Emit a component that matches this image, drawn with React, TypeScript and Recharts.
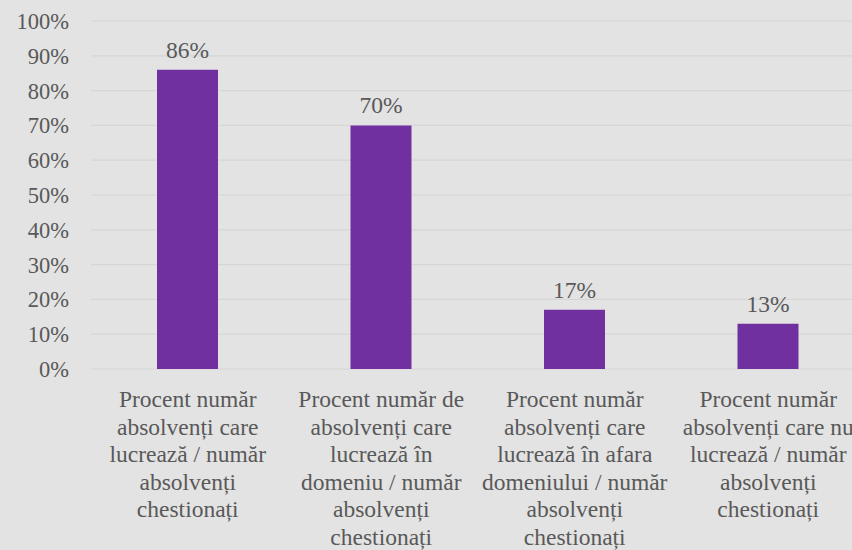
import React from "react";
import { BarChart, Bar, XAxis, YAxis, CartesianGrid, LabelList } from "recharts";

const categories = [
  "Procent număr\nabsolvenți care\nlucrează / număr\nabsolvenți\nchestionați",
  "Procent număr de\nabsolvenți care\nlucrează în\ndomeniu / număr\nabsolvenți\nchestionați",
  "Procent număr\nabsolvenți care\nlucrează în afara\ndomeniului / număr\nabsolvenți\nchestionați",
  "Procent număr\nabsolvenți care nu\nlucrează / număr\nabsolvenți\nchestionați",
];
const percentages = [86, 70, 17, 13];
const yTicks = [0, 10, 20, 30, 40, 50, 60, 70, 80, 90, 100];

const data = categories.map((name, i) => ({ name, value: percentages[i] }));

const font = "'Liberation Serif', 'Times New Roman', serif";
const textColor = "#595959";

function CategoryTick(props: any) {
  const { x, y, payload } = props;
  const lines = String(payload.value).split("\n");
  return (
    <text x={x} y={y} textAnchor="middle" fill={textColor} style={{ fontSize: 23.5, fontFamily: font }}>
      {lines.map((line, i) => (
        <tspan key={i} x={x} dy={i === 0 ? 30 : 27.5}>
          {line}
        </tspan>
      ))}
    </text>
  );
}

export default function App() {
  return (
    <div
      style={{
        position: "absolute",
        left: 0,
        top: 0,
        width: 852,
        height: 550,
        overflow: "hidden",
        background: "#e3e3e3",
        fontFamily: font,
      }}
    >
      <BarChart
        width={880}
        height={550}
        data={data}
        margin={{ top: 21, right: 15, left: 0, bottom: 21 }}
        style={{ fontFamily: font }}
      >
        <CartesianGrid vertical={false} stroke="#d6d6d6" strokeWidth={1.2} />
        <XAxis
          dataKey="name"
          axisLine={false}
          tickLine={false}
          interval={0}
          height={160}
          tick={<CategoryTick />}
        />
        <YAxis
          width={91}
          domain={[0, 100]}
          ticks={yTicks}
          axisLine={false}
          tickLine={false}
          tickMargin={16}
          tickFormatter={(v: number) => `${v}%`}
          tick={{ fill: textColor, fontSize: 22.5, style: { fontFamily: font } }}
        />
        <Bar dataKey="value" fill="#7030a0" barSize={61} isAnimationActive={false}>
          <LabelList
            dataKey="value"
            position="top"
            offset={12}
            formatter={(v: any) => `${v}%`}
            fill={textColor}
            fontSize={23.5}
            style={{ fontFamily: font }}
          />
        </Bar>
      </BarChart>
    </div>
  );
}
